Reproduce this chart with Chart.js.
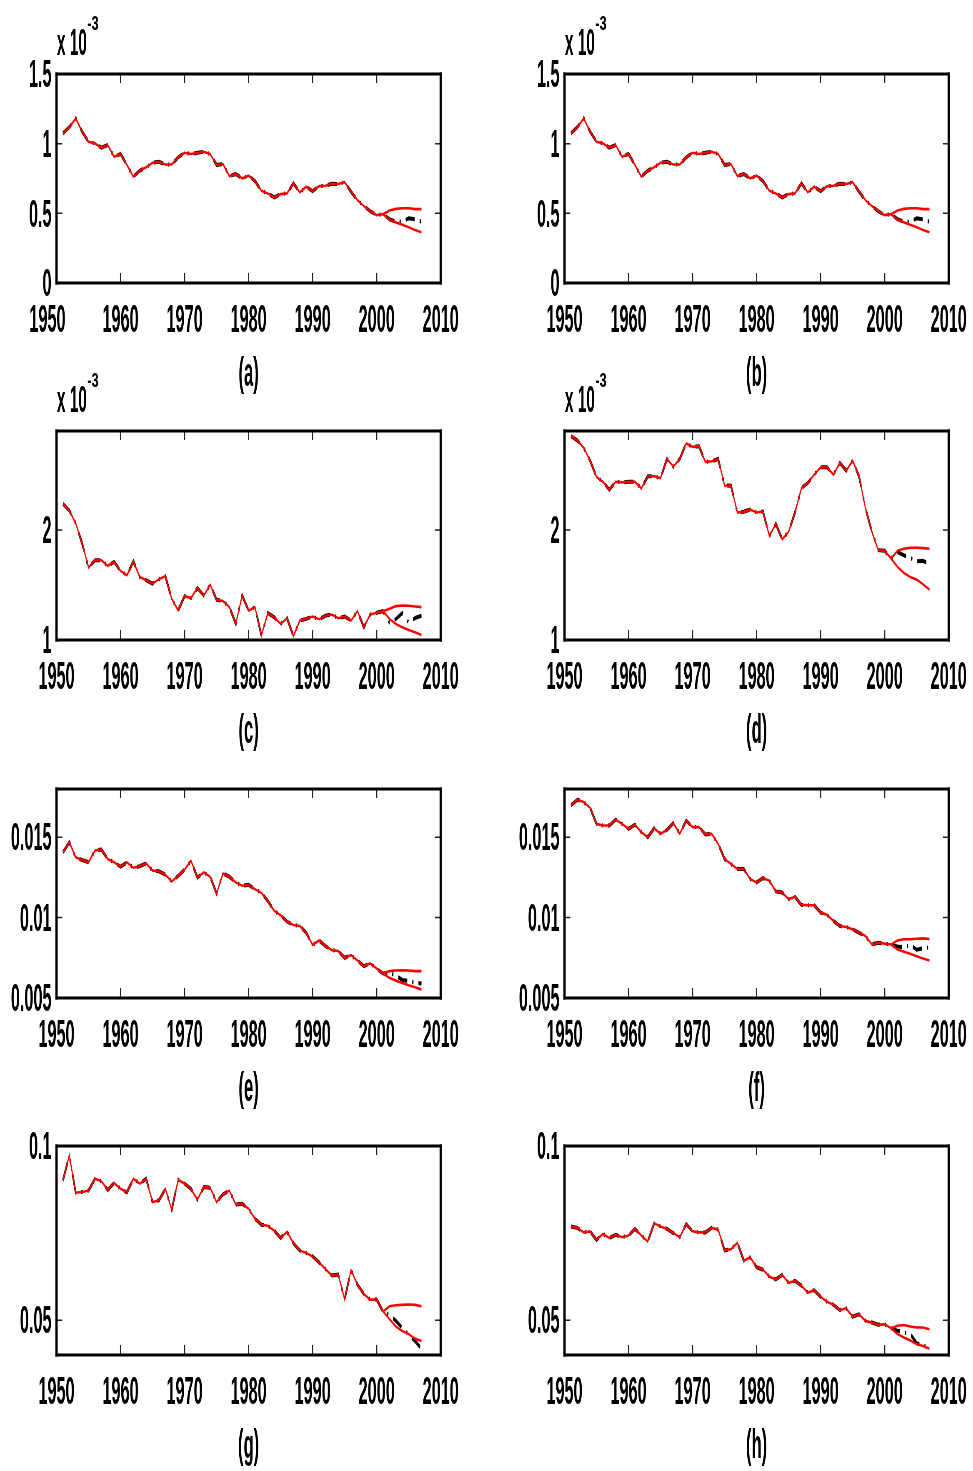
<!DOCTYPE html>
<html>
<head>
<meta charset="utf-8">
<script src="https://cdn.jsdelivr.net/npm/chart.js@4.4.1/dist/chart.umd.min.js"></script>
<style>
  html, body { margin: 0; padding: 0; background: #fff; }
  body { width: 973px; height: 1471px; position: relative; overflow: hidden; }
  .panel { position: absolute; width: 465px; height: 400px; }
  /* each chart is laid out 2.4x wider and squeezed back, giving the tall narrow lettering */
  .wide { position: absolute; left: 0; top: 0; width: 1116px; height: 400px;
          transform: scaleX(0.416667); transform-origin: 0 0; }
</style>
</head>
<body>
<script>
// ---------- data ----------
const years = [1951, 1952, 1953, 1954, 1955, 1956, 1957, 1958, 1959, 1960,
  1961, 1962, 1963, 1964, 1965, 1966, 1967, 1968, 1969, 1970,
  1971, 1972, 1973, 1974, 1975, 1976, 1977, 1978, 1979, 1980,
  1981, 1982, 1983, 1984, 1985, 1986, 1987, 1988, 1989, 1990,
  1991, 1992, 1993, 1994, 1995, 1996, 1997, 1998, 1999, 2000,
  2001, 2002, 2003, 2004, 2005, 2006, 2007];
const forecastYears = [2001, 2002, 2003, 2004, 2005, 2006, 2007];
const xTicks = [1950, 1960, 1970, 1980, 1990, 2000, 2010];

// (a) and (b), values in units of 1e-3
const obsA = [1.074, 1.118, 1.182, 1.086, 1.014, 1.002, 0.971, 0.990, 0.906, 0.926,
  0.847, 0.763, 0.806, 0.830, 0.863, 0.870, 0.851, 0.851, 0.902, 0.935,
  0.926, 0.935, 0.942, 0.926, 0.847, 0.854, 0.767, 0.782, 0.751, 0.770,
  0.731, 0.662, 0.643, 0.614, 0.638, 0.643, 0.715, 0.650, 0.691, 0.659,
  0.695, 0.698, 0.712, 0.710, 0.724, 0.655, 0.595, 0.552, 0.516, 0.487,
  0.494, 0.458, 0.440, 0.440, 0.465, 0.458, 0.440];
const fitA = [1.074, 1.118, 1.182, 1.086, 1.014, 1.002, 0.971, 0.990, 0.906, 0.926,
  0.847, 0.763, 0.806, 0.830, 0.863, 0.870, 0.851, 0.851, 0.902, 0.935,
  0.926, 0.935, 0.942, 0.926, 0.847, 0.854, 0.767, 0.782, 0.751, 0.770,
  0.731, 0.662, 0.643, 0.614, 0.638, 0.643, 0.715, 0.650, 0.691, 0.659,
  0.695, 0.698, 0.712, 0.710, 0.724, 0.655, 0.595, 0.552, 0.516, 0.487,
  0.494];
const upA = [0.494, 0.520, 0.532, 0.536, 0.536, 0.530, 0.530];
const lowA = [0.494, 0.455, 0.435, 0.418, 0.400, 0.380, 0.364];
const yTicksA = [0, 0.5, 1, 1.5];
const yLabelsA = ['0', '0.5', '1', '1.5'];

// (c), units of 1e-3
const obsC = [2.238, 2.177, 2.061, 1.878, 1.659, 1.726, 1.726, 1.674, 1.710, 1.628,
  1.588, 1.716, 1.573, 1.543, 1.512, 1.552, 1.579, 1.375, 1.268, 1.399,
  1.381, 1.473, 1.405, 1.503, 1.366, 1.354, 1.299, 1.146, 1.405, 1.268,
  1.299, 1.040, 1.244, 1.207, 1.146, 1.198, 1.034, 1.177, 1.192, 1.213,
  1.189, 1.220, 1.232, 1.198, 1.213, 1.177, 1.262, 1.116, 1.232, 1.247,
  1.262, 1.160, 1.190, 1.245, 1.160, 1.200, 1.220];
const fitC = [2.238, 2.177, 2.061, 1.878, 1.659, 1.726, 1.726, 1.674, 1.710, 1.628,
  1.588, 1.716, 1.573, 1.543, 1.512, 1.552, 1.579, 1.375, 1.268, 1.399,
  1.381, 1.473, 1.405, 1.503, 1.366, 1.354, 1.299, 1.146, 1.405, 1.268,
  1.299, 1.040, 1.244, 1.207, 1.146, 1.198, 1.034, 1.177, 1.192, 1.213,
  1.189, 1.220, 1.232, 1.198, 1.213, 1.177, 1.262, 1.116, 1.232, 1.247,
  1.262];
const upC = [1.262, 1.284, 1.308, 1.314, 1.311, 1.305, 1.299];
const lowC = [1.262, 1.192, 1.146, 1.116, 1.091, 1.070, 1.046];

// (d), units of 1e-3
const obsD = [2.854, 2.814, 2.747, 2.631, 2.482, 2.439, 2.366, 2.439, 2.433, 2.439,
  2.439, 2.378, 2.488, 2.488, 2.473, 2.646, 2.576, 2.646, 2.787, 2.756,
  2.762, 2.619, 2.625, 2.646, 2.405, 2.402, 2.159, 2.165, 2.186, 2.159,
  2.168, 1.945, 2.055, 1.915, 1.985, 2.159, 2.381, 2.427, 2.503, 2.570,
  2.570, 2.503, 2.610, 2.540, 2.631, 2.488, 2.198, 1.985, 1.817, 1.811,
  1.741, 1.800, 1.770, 1.745, 1.715, 1.720, 1.690];
const fitD = [2.854, 2.814, 2.747, 2.631, 2.482, 2.439, 2.366, 2.439, 2.433, 2.439,
  2.439, 2.378, 2.488, 2.488, 2.473, 2.646, 2.576, 2.646, 2.787, 2.756,
  2.762, 2.619, 2.625, 2.646, 2.405, 2.402, 2.159, 2.165, 2.186, 2.159,
  2.168, 1.945, 2.055, 1.915, 1.985, 2.159, 2.381, 2.427, 2.503, 2.570,
  2.570, 2.503, 2.610, 2.540, 2.631, 2.488, 2.198, 1.985, 1.817, 1.811,
  1.741];
const upD = [1.741, 1.811, 1.829, 1.838, 1.838, 1.835, 1.829];
const lowD = [1.741, 1.665, 1.610, 1.573, 1.549, 1.506, 1.457];
const yTicksC = [1, 2];
const yLabelsC = ['1', '2'];

// (e)
const obsE = [0.01406, 0.01469, 0.01375, 0.01358, 0.01344, 0.01417, 0.01423, 0.01365, 0.01344, 0.01317,
  0.01344, 0.01310, 0.01319, 0.01338, 0.01292, 0.01288, 0.01267, 0.01225, 0.01260, 0.01298,
  0.01354, 0.01250, 0.01281, 0.01254, 0.01150, 0.01275, 0.01254, 0.01219, 0.01198, 0.01204,
  0.01177, 0.01154, 0.01104, 0.01042, 0.01015, 0.00975, 0.00954, 0.00948, 0.00906, 0.00829,
  0.00858, 0.00823, 0.00798, 0.00792, 0.00750, 0.00767, 0.00733, 0.00698, 0.00715, 0.00683,
  0.00652, 0.00655, 0.00640, 0.00612, 0.00605, 0.00596, 0.00590];
const fitE = [0.01406, 0.01469, 0.01375, 0.01358, 0.01344, 0.01417, 0.01423, 0.01365, 0.01344, 0.01317,
  0.01344, 0.01310, 0.01319, 0.01338, 0.01292, 0.01288, 0.01267, 0.01225, 0.01260, 0.01298,
  0.01354, 0.01250, 0.01281, 0.01254, 0.01150, 0.01275, 0.01254, 0.01219, 0.01198, 0.01204,
  0.01177, 0.01154, 0.01104, 0.01042, 0.01015, 0.00975, 0.00954, 0.00948, 0.00906, 0.00829,
  0.00858, 0.00823, 0.00798, 0.00792, 0.00750, 0.00767, 0.00733, 0.00698, 0.00715, 0.00683,
  0.00652];
const upE = [0.00652, 0.00667, 0.00671, 0.00673, 0.00671, 0.00667, 0.00667];
const lowE = [0.00652, 0.00625, 0.00608, 0.00594, 0.00579, 0.00567, 0.00552];

// (f)
const obsF = [0.01698, 0.01733, 0.01719, 0.01683, 0.01583, 0.01573, 0.01573, 0.01610, 0.01583, 0.01552,
  0.01579, 0.01531, 0.01500, 0.01556, 0.01521, 0.01546, 0.01588, 0.01521, 0.01604, 0.01563,
  0.01563, 0.01517, 0.01521, 0.01458, 0.01365, 0.01333, 0.01302, 0.01302, 0.01240, 0.01219,
  0.01246, 0.01229, 0.01163, 0.01156, 0.01115, 0.01129, 0.01079, 0.01077, 0.01077, 0.01031,
  0.01017, 0.00979, 0.00948, 0.00942, 0.00927, 0.00906, 0.00885, 0.00833, 0.00844, 0.00838,
  0.00833, 0.00820, 0.00815, 0.00830, 0.00800, 0.00810, 0.00815];
const fitF = [0.01698, 0.01733, 0.01719, 0.01683, 0.01583, 0.01573, 0.01573, 0.01610, 0.01583, 0.01552,
  0.01579, 0.01531, 0.01500, 0.01556, 0.01521, 0.01546, 0.01588, 0.01521, 0.01604, 0.01563,
  0.01563, 0.01517, 0.01521, 0.01458, 0.01365, 0.01333, 0.01302, 0.01302, 0.01240, 0.01219,
  0.01246, 0.01229, 0.01163, 0.01156, 0.01115, 0.01129, 0.01079, 0.01077, 0.01077, 0.01031,
  0.01017, 0.00979, 0.00948, 0.00942, 0.00927, 0.00906, 0.00885, 0.00833, 0.00844, 0.00838,
  0.00833];
const upF = [0.00833, 0.00858, 0.00865, 0.00865, 0.00869, 0.00871, 0.00867];
const lowF = [0.00833, 0.00802, 0.00788, 0.00775, 0.00760, 0.00746, 0.00733];
const yTicksE = [0.005, 0.01, 0.015];
const yLabelsE = ['0.005', '0.01', '0.015'];

// (g)
const obsG = [0.0901, 0.0973, 0.0866, 0.0868, 0.0872, 0.0906, 0.0899, 0.0874, 0.0894, 0.0877,
  0.0867, 0.0906, 0.0892, 0.0906, 0.0839, 0.0844, 0.0877, 0.0817, 0.0903, 0.0892,
  0.0877, 0.0846, 0.0882, 0.0880, 0.0839, 0.0861, 0.0872, 0.0832, 0.0834, 0.0820,
  0.0791, 0.0774, 0.0771, 0.0757, 0.0736, 0.0754, 0.0721, 0.0700, 0.0693, 0.0683,
  0.0666, 0.0647, 0.0628, 0.0631, 0.0560, 0.0644, 0.0602, 0.0575, 0.0559, 0.0559,
  0.0525, 0.0515, 0.0498, 0.0478, 0.0458, 0.0440, 0.0418];
const fitG = [0.0901, 0.0973, 0.0866, 0.0868, 0.0872, 0.0906, 0.0899, 0.0874, 0.0894, 0.0877,
  0.0867, 0.0906, 0.0892, 0.0906, 0.0839, 0.0844, 0.0877, 0.0817, 0.0903, 0.0892,
  0.0877, 0.0846, 0.0882, 0.0880, 0.0839, 0.0861, 0.0872, 0.0832, 0.0834, 0.0820,
  0.0791, 0.0774, 0.0771, 0.0757, 0.0736, 0.0754, 0.0721, 0.0700, 0.0693, 0.0683,
  0.0666, 0.0647, 0.0628, 0.0631, 0.0560, 0.0644, 0.0602, 0.0575, 0.0559, 0.0559,
  0.0525];
const upG = [0.0525, 0.0540, 0.0543, 0.0544, 0.0545, 0.0544, 0.0540];
const lowG = [0.0525, 0.0503, 0.0482, 0.0469, 0.0460, 0.0447, 0.0440];

// (h)
const obsH = [0.0769, 0.0765, 0.0752, 0.0755, 0.0730, 0.0748, 0.0736, 0.0745, 0.0738, 0.0743,
  0.0762, 0.0743, 0.0726, 0.0778, 0.0769, 0.0762, 0.0750, 0.0738, 0.0776, 0.0755,
  0.0752, 0.0752, 0.0765, 0.0760, 0.0700, 0.0704, 0.0722, 0.0671, 0.0680, 0.0652,
  0.0645, 0.0625, 0.0617, 0.0630, 0.0607, 0.0613, 0.0599, 0.0579, 0.0586, 0.0567,
  0.0553, 0.0544, 0.0529, 0.0534, 0.0510, 0.0517, 0.0498, 0.0493, 0.0487, 0.0488,
  0.0477, 0.0470, 0.0465, 0.0460, 0.0434, 0.0427, 0.0420];
const fitH = [0.0769, 0.0765, 0.0752, 0.0755, 0.0730, 0.0748, 0.0736, 0.0745, 0.0738, 0.0743,
  0.0762, 0.0743, 0.0726, 0.0778, 0.0769, 0.0762, 0.0750, 0.0738, 0.0776, 0.0755,
  0.0752, 0.0752, 0.0765, 0.0760, 0.0700, 0.0704, 0.0722, 0.0671, 0.0680, 0.0652,
  0.0645, 0.0625, 0.0617, 0.0630, 0.0607, 0.0613, 0.0599, 0.0579, 0.0586, 0.0567,
  0.0553, 0.0544, 0.0529, 0.0534, 0.0510, 0.0517, 0.0498, 0.0493, 0.0487, 0.0488,
  0.0477];
const upH = [0.0477, 0.0484, 0.0486, 0.0482, 0.0479, 0.0479, 0.0474];
const lowH = [0.0477, 0.0460, 0.0450, 0.0442, 0.0431, 0.0426, 0.0418];
const yTicksG = [0.05, 0.1];
const yLabelsG = ['0.05', '0.1'];

// ---------- layout & style ----------
const FAMILY = "'Liberation Sans', Arial, Helvetica, sans-serif";
const WEIGHT = 'bold';
const RED = 'rgb(255,0,0)';

const panels = [
  { tag: '(a)', left: 0,     top: 0,      obs: obsA, fit: fitA, up: upA, low: lowA, min: 0,     max: 1.5,   ticks: yTicksA, labels: yLabelsA, exponent: true, nudgeFirst: true },
  { tag: '(b)', left: 507.8, top: 0,      obs: obsA, fit: fitA, up: upA, low: lowA, min: 0,     max: 1.5,   ticks: yTicksA, labels: yLabelsA, exponent: true },
  { tag: '(c)', left: 0,     top: 357,    obs: obsC, fit: fitC, up: upC, low: lowC, min: 1,     max: 2.9,   ticks: yTicksC, labels: yLabelsC, exponent: true },
  { tag: '(d)', left: 507.8, top: 357,    obs: obsD, fit: fitD, up: upD, low: lowD, min: 1,     max: 2.9,   ticks: yTicksC, labels: yLabelsC, exponent: true },
  { tag: '(e)', left: 0,     top: 715,    obs: obsE, fit: fitE, up: upE, low: lowE, min: 0.005, max: 0.018, ticks: yTicksE, labels: yLabelsE },
  { tag: '(f)', left: 507.8, top: 715,    obs: obsF, fit: fitF, up: upF, low: lowF, min: 0.005, max: 0.018, ticks: yTicksE, labels: yLabelsE },
  { tag: '(g)', left: 0,     top: 1071.7, obs: obsG, fit: fitG, up: upG, low: lowG, min: 0.04,  max: 0.1,   ticks: yTicksG, labels: yLabelsG },
  { tag: '(h)', left: 507.8, top: 1071.7, obs: obsH, fit: fitH, up: upH, low: lowH, min: 0.04,  max: 0.1,   ticks: yTicksG, labels: yLabelsG }
];

// box, inward tick marks and the "x 10^-3" multiplier
const framePlugin = {
  id: 'frame',
  afterDraw(chart, args, opts) {
    const { ctx, chartArea: a, scales: { x, y } } = chart;
    ctx.save();
    ctx.strokeStyle = '#222';
    ctx.lineWidth = 2.8;
    ctx.beginPath();
    x.ticks.forEach(t => {
      if (t.value <= x.min || t.value >= x.max) return;
      const px = x.getPixelForValue(t.value);
      ctx.moveTo(px, a.bottom); ctx.lineTo(px, a.bottom - 10);
      ctx.moveTo(px, a.top);    ctx.lineTo(px, a.top + 9);
    });
    ctx.stroke();
    ctx.lineWidth = 1.5;
    ctx.beginPath();
    y.ticks.forEach(t => {
      if (t.value <= y.min || t.value >= y.max) return;
      const py = y.getPixelForValue(t.value);
      ctx.moveTo(a.left, py);  ctx.lineTo(a.left + 14, py);
      ctx.moveTo(a.right, py); ctx.lineTo(a.right - 14, py);
    });
    ctx.stroke();

    ctx.fillStyle = '#000';
    const h = 3, v = 5.4;
    ctx.fillRect(a.left - v / 2, a.top - h / 2, a.right - a.left + v, h);
    ctx.fillRect(a.left - v / 2, a.bottom - h / 2, a.right - a.left + v, h);
    ctx.fillRect(a.left - v / 2, a.top - h / 2, v, a.bottom - a.top + h);
    ctx.fillRect(a.right - v / 2, a.top - h / 2, v, a.bottom - a.top + h);

    if (opts.exponent) {
      ctx.textBaseline = 'alphabetic';
      ctx.textAlign = 'left';
      ctx.font = WEIGHT + ' 37px ' + FAMILY;
      const base = 'x 10';
      const bx = a.left + 1;
      const by = a.top - 19;
      ctx.fillText(base, bx, by);
      const w = ctx.measureText(base).width;
      ctx.translate(bx + w + 1, by - 25.5);
      ctx.scale(1.45, 1);
      ctx.font = WEIGHT + ' 21px ' + FAMILY;
      ctx.fillText('-3', 0, 0);
    }
    ctx.restore();
  }
};

const pts = (xs, vals) => vals.map((v, i) => ({ x: xs[i], y: v }));

panels.forEach(p => {
  const outer = document.createElement('div');
  outer.className = 'panel';
  outer.style.left = p.left + 'px';
  outer.style.top = p.top + 'px';
  const inner = document.createElement('div');
  inner.className = 'wide';
  const canvas = document.createElement('canvas');
  canvas.width = 1116;
  canvas.height = 400;
  inner.appendChild(canvas);
  outer.appendChild(inner);
  document.body.appendChild(outer);

  const tickFont = { family: FAMILY, size: 39, weight: WEIGHT };

  new Chart(canvas, {
    type: 'line',
    data: {
      datasets: [
        { label: 'upper', data: pts(forecastYears, p.up), borderColor: RED, borderWidth: 2.6 },
        { label: 'lower', data: pts(forecastYears, p.low), borderColor: RED, borderWidth: 2.6 },
        { label: 'fitted', data: pts(years, p.fit), borderColor: RED, borderWidth: 2.6 },
        { label: 'observed', data: pts(years, p.obs), borderColor: '#000', borderWidth: 4,
          borderDash: [22, 12, 3, 12] }
      ]
    },
    options: {
      responsive: false,
      animation: false,
      devicePixelRatio: 1,
      events: [],
      elements: { point: { radius: 0 }, line: { tension: 0, fill: false } },
      layout: { padding: { left: 0, right: 55.2, top: 74, bottom: 0 } },
      plugins: {
        legend: { display: false },
        tooltip: { enabled: false },
        frame: { exponent: !!p.exponent }
      },
      scales: {
        x: {
          type: 'linear', min: 1950, max: 2010,
          afterBuildTicks: s => { s.ticks = xTicks.map(v => ({ value: v })); },
          afterFit: s => { s.height = 117; },
          grid: { display: false, drawTicks: false },
          border: { display: false },
          ticks: {
            autoSkip: false, maxRotation: 0, padding: 15, color: '#000', font: tickFont,
            callback: v => (p.nudgeFirst && v === 1950) ? '1950    ' : String(v)
          },
          title: { display: true, text: p.tag, color: '#000',
                   font: { family: FAMILY, size: 40, weight: WEIGHT }, padding: { top: 0, bottom: 1 } }
        },
        y: {
          type: 'linear', min: p.min, max: p.max,
          afterBuildTicks: s => { s.ticks = p.ticks.map(v => ({ value: v })); },
          afterFit: s => { s.width = 135.6; },
          grid: { display: false, drawTicks: false },
          border: { display: false },
          ticks: {
            padding: 12, labelOffset: 2.5, color: '#000', font: tickFont,
            callback: v => p.labels[p.ticks.indexOf(v)]
          }
        }
      }
    },
    plugins: [framePlugin]
  });
});
</script>
</body>
</html>
